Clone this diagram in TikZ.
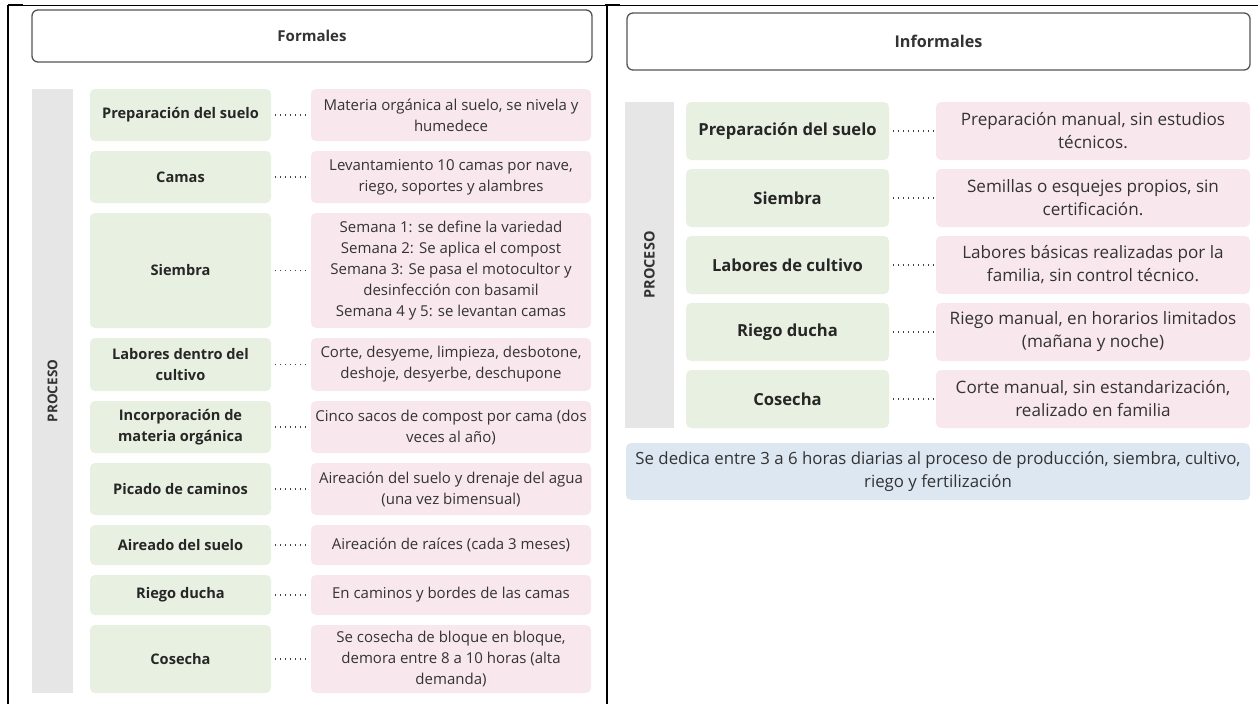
\documentclass[tikz,border=0pt]{standalone}
\usepackage{fontspec}
\setmainfont{Open Sans}
\definecolor{grn}{HTML}{E8F0E1}
\definecolor{pnk}{HTML}{F9E7EE}
\definecolor{gry}{HTML}{E6E6E6}
\definecolor{blu}{HTML}{DCE7F2}
\definecolor{txt}{HTML}{333333}
\definecolor{hdr}{HTML}{555555}
\begin{document}
\begin{tikzpicture}[x=1pt,y=-1pt,
  hdrbox/.style={draw=hdr,line width=1.3pt,rounded corners=6pt,fill=white,inner sep=0pt,font=\bfseries\fontsize{15}{18}\selectfont,text=txt},
  lbl/.style={fill=grn,rounded corners=5pt,inner sep=0pt,align=center,font=\bfseries\fontsize{14.6}{21.5}\selectfont,text=black!85},
  dsc/.style={fill=pnk,rounded corners=5pt,inner sep=0pt,align=center,font=\fontsize{15}{21}\selectfont,text=txt},
  lblR/.style={lbl,font=\bfseries\fontsize{16.6}{23}\selectfont},
  dscR/.style={dsc,font=\fontsize{17.1}{23}\selectfont},
  col/.style={fill=gry,inner sep=0pt},
  link/.style={draw=black!75,line width=1.3pt,dash pattern=on 1.2pt off 3.8pt},
  rule/.style={draw=black,line width=0.8pt}]
\useasboundingbox (0,0) rectangle (1260,704);
% table rules
\draw[rule] (8,5) -- (1258,5);
\draw[draw=black,line width=2pt] (8,4.5) -- (8,704);
\draw[draw=black,line width=2pt] (607,4.5) -- (607,704);
\draw[draw=black,line width=1.6pt] (8,5) -- (23,5);
\draw[draw=black,line width=1.6pt] (605,5) -- (620,5);
% ---------- left: Formales ----------
\node[hdrbox,minimum width=560pt,minimum height=52pt] (hL) at (312,36) {Formales};
\node[col,minimum width=41pt,minimum height=604pt] (cL) at (52.5,391) {};
\node[rotate=90,font=\bfseries\fontsize{13.5}{16}\selectfont,text=txt] (pL) at (cL.center) {PROCESO};
\def\gx{180.5}\def\px{451}
\node[lbl,minimum width=181pt,minimum height=52pt] (a1) at (\gx,115) {Preparación del suelo};
\node[dsc,minimum width=280pt,minimum height=52pt] (b1) at (\px,115) {Materia orgánica al suelo, se nivela y\\humedece};
\node[lbl,minimum width=181pt,minimum height=52pt] (a2) at (\gx,177) {Camas};
\node[dsc,minimum width=280pt,minimum height=52pt] (b2) at (\px,177) {Levantamiento 10 camas por nave,\\riego, soportes y alambres};
\node[lbl,minimum width=181pt,minimum height=115pt] (a3) at (\gx,270.5) {Siembra};
\node[dsc,minimum width=280pt,minimum height=115pt] (b3) at (\px,270.5) {Semana 1: se define la variedad\\Semana 2: Se aplica el compost\\Semana 3: Se pasa el motocultor y\\desinfección con basamil\\Semana 4 y 5: se levantan camas};
\node[lbl,minimum width=181pt,minimum height=53pt] (a4) at (\gx,364.5) {Labores dentro del\\cultivo};
\node[dsc,minimum width=280pt,minimum height=53pt] (b4) at (\px,364.5) {Corte, desyeme, limpieza, desbotone,\\deshoje, desyerbe, deschupone};
\node[lbl,minimum width=181pt,minimum height=52pt] (a5) at (\gx,427) {Incorporación de\\materia orgánica};
\node[dsc,minimum width=280pt,minimum height=52pt] (b5) at (\px,427) {Cinco sacos de compost por cama (dos\\veces al año)};
\node[lbl,minimum width=181pt,minimum height=52pt] (a6) at (\gx,489) {Picado de caminos};
\node[dsc,minimum width=280pt,minimum height=52pt] (b6) at (\px,489) {Aireación del suelo y drenaje del agua\\(una vez bimensual)};
\node[lbl,minimum width=181pt,minimum height=40pt] (a7) at (\gx,545) {Aireado del suelo};
\node[dsc,minimum width=280pt,minimum height=40pt] (b7) at (\px,545) {Aireación de raíces (cada 3 meses)};
\node[lbl,minimum width=181pt,minimum height=40pt] (a8) at (\gx,595) {Riego ducha};
\node[dsc,minimum width=280pt,minimum height=40pt] (b8) at (\px,595) {En caminos y bordes de las camas};
\node[lbl,minimum width=181pt,minimum height=68pt] (a9) at (\gx,659) {Cosecha};
\node[dsc,minimum width=280pt,minimum height=68pt] (b9) at (\px,659) {Se cosecha de bloque en bloque,\\demora entre 8 a 10 horas (alta\\demanda)};
\foreach \i in {1,...,9} {\draw[link] ([xshift=4pt]a\i.east) -- ([xshift=-2pt]b\i.west);}
% ---------- right: Informales ----------
\node[hdrbox,minimum width=623pt,minimum height=57pt,font=\bfseries\fontsize{16.2}{18}\selectfont] (hR) at (938.5,41.5) {Informales};
\node[col,minimum width=49pt,minimum height=326pt] (cR) at (649.5,265) {};
\node[rotate=90,font=\bfseries\fontsize{14.5}{16}\selectfont,text=txt] (pR) at (cR.center) {PROCESO};
\def\gr{787.5}\def\pr{1093}
\node[lblR,minimum width=203pt,minimum height=58pt] (c1) at (\gr,131) {Preparación del suelo};
\node[dscR,minimum width=314pt,minimum height=58pt] (d1) at (\pr,131) {Preparación manual, sin estudios\\técnicos.};
\node[lblR,minimum width=203pt,minimum height=58pt] (c2) at (\gr,198) {Siembra};
\node[dscR,minimum width=314pt,minimum height=58pt] (d2) at (\pr,198) {Semillas o esquejes propios, sin\\certificación.};
\node[lblR,minimum width=203pt,minimum height=58pt] (c3) at (\gr,265) {Labores de cultivo};
\node[dscR,minimum width=314pt,minimum height=58pt] (d3) at (\pr,265) {Labores básicas realizadas por la\\familia, sin control técnico.};
\node[lblR,minimum width=203pt,minimum height=58pt] (c4) at (\gr,332) {Riego ducha};
\node[dscR,minimum width=314pt,minimum height=58pt] (d4) at (\pr,332) {Riego manual, en horarios limitados\\(mañana y noche)};
\node[lblR,minimum width=203pt,minimum height=58pt] (c5) at (\gr,399) {Cosecha};
\node[dscR,minimum width=314pt,minimum height=58pt] (d5) at (\pr,399) {Corte manual, sin estandarización,\\realizado en familia};
\foreach \i in {1,...,5} {\draw[link] ([xshift=4pt]c\i.east) -- ([xshift=-2pt]d\i.west);}
\node[fill=blu,rounded corners=5pt,inner sep=0pt,align=center,minimum width=624pt,minimum height=57pt,font=\fontsize{16.8}{23}\selectfont,text=txt] (note) at (938,471.5) {Se dedica entre 3 a 6 horas diarias al proceso de producción, siembra, cultivo,\\riego y fertilización};
\end{tikzpicture}
\end{document}
